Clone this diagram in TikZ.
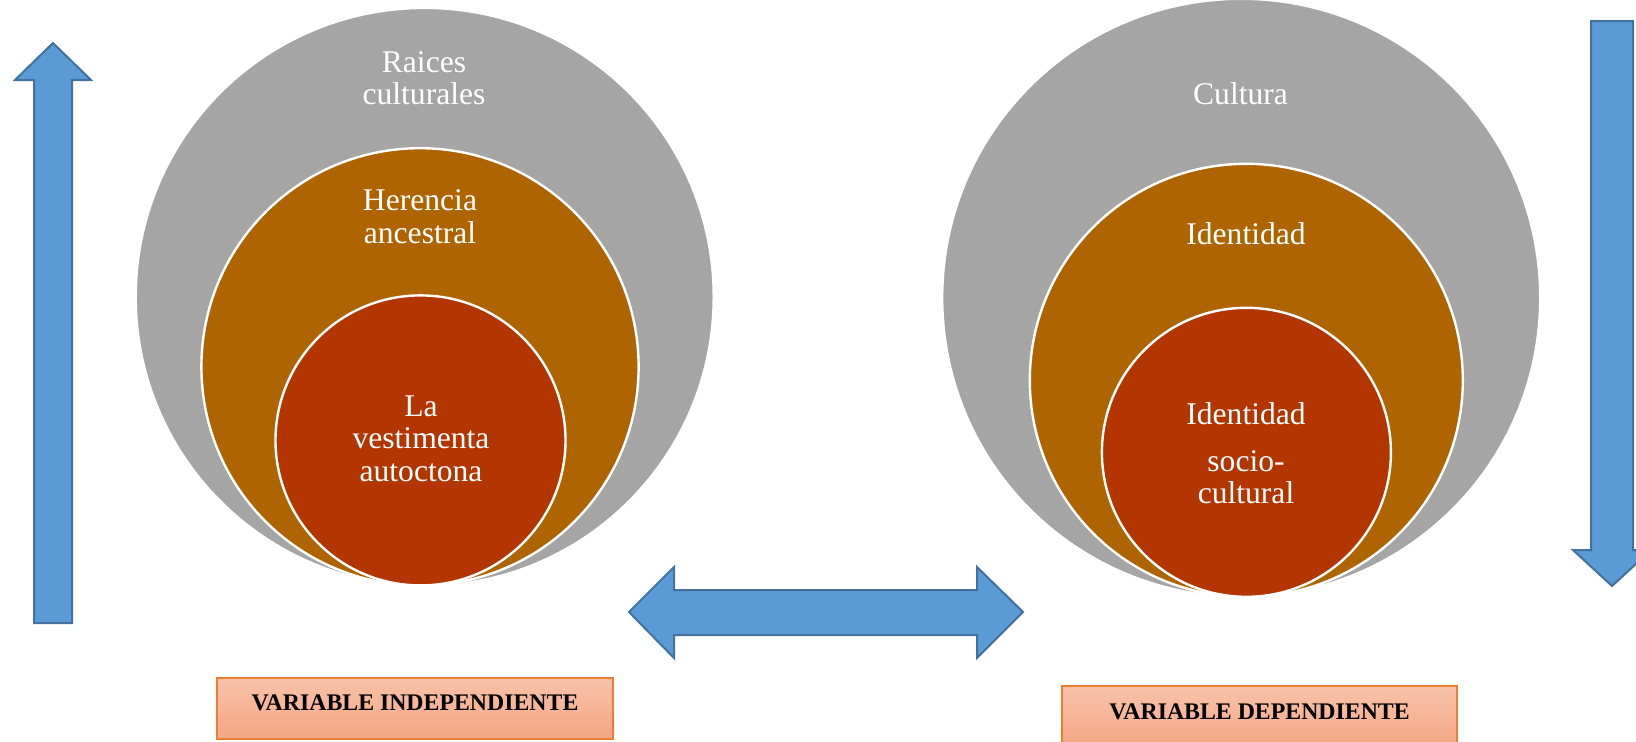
\documentclass[tikz,border=0pt]{standalone}
\usepackage{fontspec}
\setmainfont{Liberation Serif}
\usetikzlibrary{positioning}

\definecolor{grisc}{HTML}{A5A5A5}
\definecolor{cafe}{HTML}{AE6400}
\definecolor{rojizo}{HTML}{B33500}
\definecolor{azul}{HTML}{5B9BD5}
\definecolor{azulborde}{HTML}{41719C}
\definecolor{salmon}{HTML}{F8C2A9}
\definecolor{salmonb}{HTML}{F4A683}
\definecolor{naranja}{HTML}{ED7D31}

\begin{document}
\begin{tikzpicture}[
    x=0.5pt, y=-0.5pt,
    ring/.style={circle, draw=white, line width=1.2pt, inner sep=0pt},
    txt/.style={text=white, align=center, anchor=north, inner sep=0pt, font=\fontsize{15.8}{16.1}\selectfont},
    flecha/.style={fill=azul, draw=azulborde, line width=1pt, line join=miter},
    varbox/.style={draw=naranja, line width=0.8pt, top color=salmon, bottom color=salmonb,
        font=\fontsize{11.9}{14}\selectfont\bfseries, text height=10pt, text depth=8.5pt}
]
\clip (0,0) rectangle (1636,741);

% left group
\node[ring, fill=grisc, minimum size=289pt] (raices) at (424.7,296.9) {};
\node[ring, fill=cafe, minimum size=218.6pt] (herencia) at (420,366.8) {};
\node[ring, fill=rojizo, minimum size=145pt] (vestimenta) at (420.5,440.4) {};
\node[txt] (raicestxt) at (424,51) {Raices\\culturales};
\node[txt] (herenciatxt) at (420,189.5) {Herencia\\ancestral};
\node[txt] (vestimentatxt) at (421,395.5) {La\\vestimenta\\autoctona};

% right group
\node[ring, fill=grisc, minimum size=299pt] (cultura) at (1241.2,297.8) {};
\node[ring, fill=cafe, minimum size=216.5pt] (identidad) at (1246.3,380.3) {};
\node[ring, fill=rojizo, minimum size=144.5pt] (socio) at (1246.4,452.3) {};
\node[txt] (culturatxt) at (1240.5,82) {Cultura};
\node[txt] (identidadtxt) at (1246,222.5) {Identidad};
\node[txt] (sociotxt) at (1246,402) {Identidad\\[7.3pt]socio-\\cultural};

% arrows
\draw[flecha] (34,623) -- (34,80) -- (15,80) -- (53,43) -- (91,80) -- (72,80) -- (72,623) -- cycle;
\draw[flecha] (1591,21) -- (1633,21) -- (1633,550) -- (1651,550) -- (1612,586) -- (1573,550) -- (1591,550) -- cycle;
\draw[flecha] (629,612) -- (674,567) -- (674,590) -- (977,590) -- (977,567) -- (1023,612)
    -- (977,658) -- (977,635) -- (674,635) -- (674,658) -- cycle;

% labels
\node[varbox, minimum width=198pt, minimum height=30.5pt] (indep) at (415,708.5) {VARIABLE INDEPENDIENTE};
\node[varbox, minimum width=197.5pt, minimum height=32pt] (dep) at (1259.5,718) {VARIABLE DEPENDIENTE};
\end{tikzpicture}
\end{document}
